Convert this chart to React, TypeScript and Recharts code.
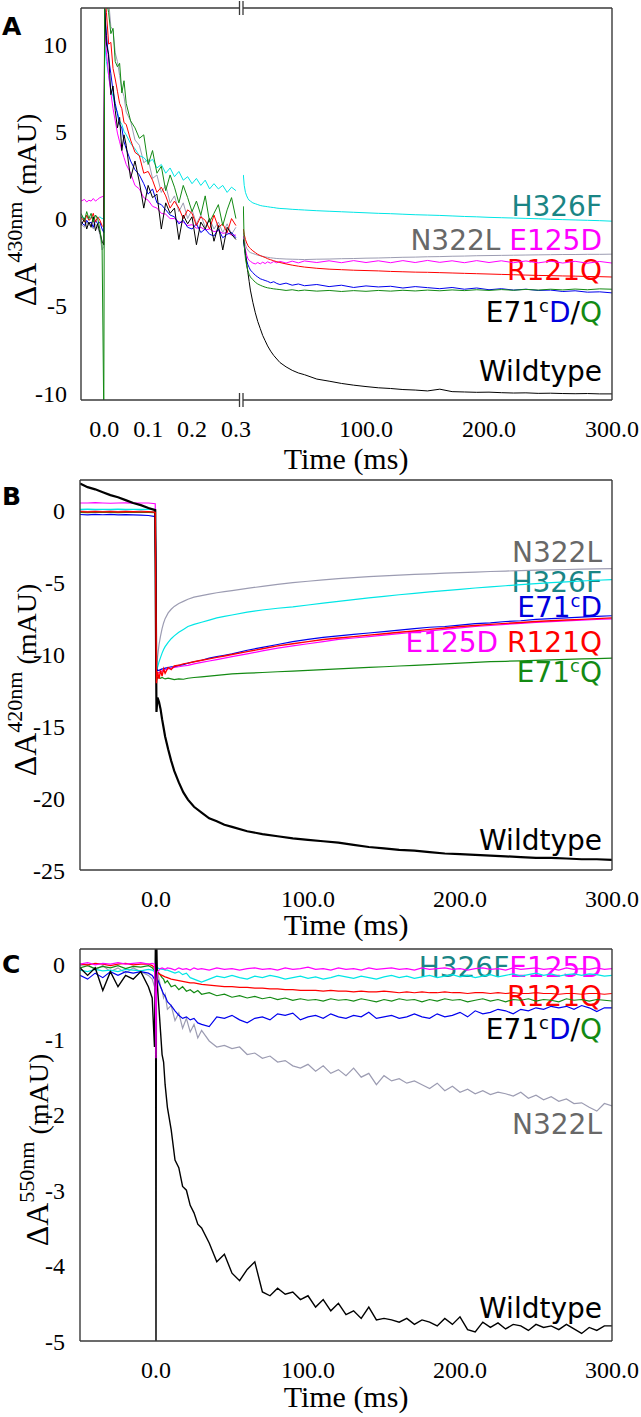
import React from 'react';
import { LineChart, Line, XAxis, YAxis } from 'recharts';

// ---------------- Panel A, left segment (0 - 0.3 ms) ----------------
const tAL = [-0.053, -0.045, -0.04, -0.035, -0.03, -0.025, -0.02, -0.015, -0.01, -0.005, -0.001, 0.001, 0.005, 0.01, 0.015, 0.02, 0.025, 0.03, 0.035, 0.04, 0.045, 0.05, 0.06, 0.07, 0.08, 0.09, 0.10, 0.11, 0.12, 0.13, 0.14, 0.15, 0.16, 0.17, 0.18, 0.19, 0.20, 0.21, 0.22, 0.23, 0.24, 0.25, 0.26, 0.27, 0.28, 0.29, 0.30];
const aL_gray = [-0.3, -0.5, -0.2, -0.4, -0.3, -0.6, -0.3, -0.5, -0.9, -1.8, -1.6, 14, 13, 12.5, 11.0, 10.8, 9.5, 9.0, 8.2, 7.4, 7.0, 6.1, 5.6, 4.5, 4.2, 3.2, 3.4, 2.3, 2.5, 1.5, 1.9, 0.9, 1.3, 0.4, 0.9, 0.0, 0.5, -0.3, 0.2, -0.5, 0.0, -0.6, -0.2, -0.8, -0.3, -0.9, -0.5];
const aL_cyan = [0.1, 0.0, 0.2, -0.1, 0.1, 0.0, 0.2, 0.0, 0.1, 0.0, 0.0, 10, 9.0, 8.2, 7.4, 7.0, 6.4, 6.1, 5.6, 5.4, 5.0, 4.8, 4.3, 4.0, 3.6, 3.5, 3.2, 3.4, 2.9, 3.1, 2.6, 2.9, 2.4, 2.7, 2.2, 2.4, 2.0, 2.3, 1.9, 2.2, 1.7, 2.0, 1.7, 1.9, 1.5, 1.8, 1.6];
const aL_mag = [1.0, 1.1, 0.95, 1.05, 1.0, 1.15, 1.0, 1.1, 1.2, 1.25, 1.3, 11, 9.5, 8.2, 7.2, 6.3, 5.6, 4.9, 4.4, 3.9, 3.5, 3.1, 2.6, 1.9, 1.7, 1.2, 1.05, 0.7, 0.6, 0.3, 0.25, 0.0, 0.0, -0.2, -0.2, -0.4, -0.35, -0.55, -0.5, -0.65, -0.6, -0.75, -0.7, -0.85, -0.8, -0.95, -0.95];
const aL_blue = [-0.2, -0.4, -0.1, -0.3, -0.2, -0.5, -0.1, -0.3, -0.2, -0.6, -0.8, 12, 10.5, 9.2, 8.3, 7.3, 6.6, 6.0, 5.4, 5.2, 4.4, 4.0, 3.3, 2.8, 2.5, 2.0, 1.4, 1.7, 0.9, 0.8, 0.5, 0.2, 0.1, -0.3, -0.1, -0.5, -0.6, -0.3, -0.8, -0.6, -0.9, -1.0, -0.6, -1.1, -0.9, -0.8, -1.1];
const aL_red = [0.1, -0.2, 0.2, -0.1, 0.0, 0.3, -0.2, 0.1, -0.1, -0.4, -0.5, 13, 11.8, 10.0, 10.1, 8.6, 8.0, 7.3, 6.6, 6.3, 5.5, 5.4, 4.5, 3.8, 3.6, 2.6, 2.7, 2.2, 1.5, 1.8, 1.3, 0.6, 1.0, 0.6, 0.0, 0.5, 0.3, -0.4, 0.1, -0.1, -0.6, 0.2, -0.5, -0.3, -0.8, 0.0, -0.4];
const aL_black = [-0.4, 0.0, -0.6, -0.2, -0.5, 0.1, -0.7, -0.3, -0.8, -1.3, -1.5, 12, 10.0, 9.4, 7.1, 7.6, 6.2, 5.2, 5.8, 3.9, 4.8, 4.2, 2.3, 3.3, 2.1, 0.6, 1.9, 1.2, 1.4, -0.6, 0.9, 0.3, 0.6, -1.2, 0.2, -0.3, 0.1, -1.5, -0.2, -0.6, 0.0, -1.3, -0.4, -1.8, -0.5, -0.9, -1.2];
const aL_green = [0.3, -0.1, 0.4, 0.0, 0.3, -0.2, 0.2, 0.0, -0.6, -1.5, -11.5, 13.5, 12.5, 11.8, 10.6, 10.9, 9.0, 8.7, 8.9, 7.2, 7.9, 6.6, 5.6, 5.2, 4.6, 4.8, 3.1, 3.9, 2.6, 3.0, 1.6, 2.5, 1.8, 0.9, 1.9, 1.2, 0.4, 1.0, 0.2, 1.3, -0.2, 0.3, 0.8, -0.4, 0.5, 1.2, 0.0];

// ---------------- Panel A, right segment (0.3 - 300 ms) ----------------
const tAR = [0.3, 1, 2, 3, 4, 5, 6, 8, 10, 12, 14, 16, 18, 20, 22.5, 25, 27.5, 30, 35, 40, 45, 50, 60, 70, 80, 90, 100, 110, 120, 130, 140, 150, 160, 170, 180, 190, 200, 210, 220, 230, 240, 250, 260, 270, 280, 290, 300];
const aR_gray = [-0.8, -1.2, -1.5, -1.7, -1.8, -1.9, -1.95, -2.0, -2.05, -2.1, -2.13, -2.16, -2.2, -2.22, -2.25, -2.27, -2.29, -2.3, -2.32, -2.33, -2.34, -2.35, -2.33, -2.32, -2.3, -2.29, -2.27, -2.26, -2.24, -2.22, -2.21, -2.19, -2.18, -2.16, -2.15, -2.13, -2.12, -2.11, -2.1, -2.09, -2.08, -2.07, -2.06, -2.06, -2.05, -2.05, -2.04];
const aR_cyan = [2.5, 1.9, 1.5, 1.3, 1.15, 1.05, 1.0, 0.9, 0.85, 0.8, 0.75, 0.72, 0.7, 0.68, 0.65, 0.63, 0.6, 0.58, 0.56, 0.53, 0.51, 0.49, 0.45, 0.42, 0.39, 0.36, 0.33, 0.3, 0.28, 0.25, 0.22, 0.2, 0.18, 0.15, 0.12, 0.1, 0.07, 0.05, 0.03, 0.01, -0.01, -0.04, -0.06, -0.08, -0.1, -0.12, -0.15];
const aR_mag = [-1.0, -1.4, -1.8, -2.1, -2.3, -2.4, -2.45, -2.55, -2.6, -2.52, -2.6, -2.5, -2.58, -2.48, -2.56, -2.46, -2.54, -2.45, -2.55, -2.44, -2.54, -2.43, -2.52, -2.42, -2.53, -2.41, -2.52, -2.42, -2.53, -2.41, -2.52, -2.4, -2.51, -2.42, -2.53, -2.41, -2.52, -2.42, -2.53, -2.43, -2.54, -2.44, -2.55, -2.45, -2.56, -2.46, -2.55];
const aR_blue = [-1.2, -1.6, -2.1, -2.4, -2.65, -2.8, -2.95, -3.1, -3.25, -3.35, -3.45, -3.5, -3.55, -3.6, -3.68, -3.62, -3.72, -3.78, -3.7, -3.82, -3.75, -3.85, -3.78, -3.9, -3.82, -3.95, -3.86, -3.92, -3.88, -3.98, -3.9, -3.96, -4.02, -3.95, -4.05, -3.98, -4.08, -4.02, -4.1, -4.05, -4.12, -4.1, -4.18, -4.14, -4.22, -4.2, -4.26];
const aR_red = [-0.6, -0.9, -1.2, -1.4, -1.55, -1.65, -1.72, -1.85, -1.95, -2.05, -2.12, -2.18, -2.23, -2.3, -2.36, -2.42, -2.47, -2.52, -2.6, -2.67, -2.73, -2.78, -2.85, -2.9, -2.93, -2.96, -2.98, -3.0, -3.03, -3.05, -3.07, -3.08, -3.1, -3.12, -3.14, -3.16, -3.18, -3.2, -3.22, -3.24, -3.26, -3.27, -3.29, -3.3, -3.32, -3.33, -3.35];
const aR_black = [-1.2, -1.5, -2.0, -2.6, -3.1, -3.6, -4.1, -4.8, -5.4, -5.9, -6.3, -6.7, -7.0, -7.3, -7.6, -7.85, -8.05, -8.25, -8.5, -8.7, -8.85, -8.95, -9.2, -9.32, -9.45, -9.55, -9.63, -9.7, -9.74, -9.8, -9.83, -9.88, -9.78, -9.92, -9.94, -9.96, -9.95, -9.98, -10.0, -9.99, -10.02, -10.01, -10.03, -10.04, -10.03, -10.05, -10.05];
const aR_green = [0.7, -1.5, -2.3, -2.7, -3.0, -3.2, -3.35, -3.5, -3.65, -3.75, -3.82, -3.88, -3.93, -3.97, -4.0, -4.03, -4.05, -4.07, -4.12, -4.08, -4.14, -4.1, -4.16, -4.12, -4.18, -4.13, -4.17, -4.12, -4.16, -4.11, -4.15, -4.1, -4.14, -4.09, -4.13, -4.08, -4.12, -4.07, -4.11, -4.06, -4.1, -4.05, -4.09, -4.04, -4.08, -4.03, -4.05];

// ---------------- Panel B (420 nm) ----------------
const tB = [-50, -45, -40, -35, -30, -25, -20, -15, -10, -5, -0.5, 0.3, 1, 2, 3, 4, 5, 6, 8, 10, 12, 15, 18, 21, 25, 30, 35, 40, 45, 50, 60, 70, 80, 90, 100, 110, 120, 130, 140, 150, 160, 170, 180, 190, 200, 210, 220, 230, 240, 250, 260, 270, 280, 290, 300];
const b_gray = [0.0, -0.05, 0.0, -0.05, 0.0, -0.05, 0.0, -0.05, 0.0, -0.05, -0.05, -11.3, -10.2, -9.3, -8.7, -8.2, -7.8, -7.5, -7.1, -6.85, -6.65, -6.45, -6.3, -6.15, -6.0, -5.9, -5.8, -5.7, -5.62, -5.55, -5.4, -5.25, -5.12, -5.0, -4.9, -4.8, -4.72, -4.65, -4.58, -4.52, -4.47, -4.42, -4.38, -4.33, -4.3, -4.26, -4.22, -4.19, -4.16, -4.13, -4.1, -4.08, -4.06, -4.04, -4.02];
const b_cyan = [0.1, 0.12, 0.1, 0.11, 0.1, 0.12, 0.1, 0.11, 0.1, 0.1, 0.1, -11.2, -10.9, -10.5, -10.2, -9.9, -9.65, -9.45, -9.15, -8.9, -8.7, -8.45, -8.25, -8.05, -7.9, -7.75, -7.6, -7.45, -7.35, -7.25, -7.05, -6.9, -6.78, -6.68, -6.55, -6.42, -6.3, -6.18, -6.06, -5.95, -5.84, -5.74, -5.64, -5.55, -5.46, -5.37, -5.29, -5.21, -5.14, -5.07, -5.0, -4.94, -4.88, -4.83, -4.78];
const b_mag = [0.55, 0.55, 0.57, 0.55, 0.53, 0.55, 0.56, 0.54, 0.55, 0.55, 0.5, -11.3, -11.3, -11.25, -11.2, -11.15, -11.1, -11.05, -11.0, -10.95, -10.9, -10.85, -10.8, -10.75, -10.65, -10.55, -10.45, -10.35, -10.25, -10.15, -9.95, -9.75, -9.55, -9.4, -9.25, -9.1, -8.95, -8.85, -8.75, -8.65, -8.55, -8.45, -8.35, -8.25, -8.15, -8.05, -7.98, -7.9, -7.83, -7.77, -7.71, -7.66, -7.61, -7.56, -7.52];
const b_blue = [-0.25, -0.28, -0.25, -0.27, -0.25, -0.28, -0.26, -0.28, -0.3, -0.32, -0.4, -11.0, -11.1, -11.1, -11.05, -11.0, -11.0, -10.95, -10.9, -10.85, -10.85, -10.75, -10.7, -10.6, -10.5, -10.4, -10.25, -10.15, -10.05, -9.95, -9.7, -9.5, -9.3, -9.1, -8.95, -8.8, -8.7, -8.6, -8.5, -8.4, -8.3, -8.2, -8.1, -8.05, -7.95, -7.85, -7.8, -7.7, -7.65, -7.55, -7.5, -7.45, -7.4, -7.35, -7.3];
const b_green = [-0.1, -0.12, -0.1, -0.11, -0.1, -0.12, -0.1, -0.11, -0.1, -0.1, -0.12, -11.8, -11.6, -11.6, -11.65, -11.6, -11.65, -11.7, -11.65, -11.7, -11.75, -11.7, -11.72, -11.65, -11.6, -11.55, -11.5, -11.45, -11.4, -11.35, -11.3, -11.25, -11.2, -11.15, -11.1, -11.05, -11.0, -10.95, -10.9, -10.85, -10.8, -10.75, -10.7, -10.65, -10.6, -10.55, -10.5, -10.47, -10.44, -10.4, -10.37, -10.34, -10.3, -10.28, -10.25];
const b_black = [1.9, 1.65, 1.5, 1.3, 1.1, 0.95, 0.75, 0.55, 0.4, 0.2, 0.05, -14.0, -13.0, -13.3, -13.8, -14.5, -15.1, -15.7, -16.6, -17.4, -18.1, -18.9, -19.6, -20.1, -20.6, -21.0, -21.4, -21.6, -21.85, -22.0, -22.3, -22.5, -22.65, -22.8, -22.9, -23.0, -23.1, -23.25, -23.4, -23.5, -23.6, -23.65, -23.75, -23.85, -23.9, -23.95, -24.0, -24.05, -24.1, -24.15, -24.15, -24.2, -24.25, -24.25, -24.3];
const b_red = [-0.05, -0.08, -0.05, -0.07, -0.05, -0.08, -0.06, -0.05, -0.07, -0.05, -0.1, -12.0, -11.2, -11.7, -11.1, -11.5, -11.0, -11.3, -10.9, -11.05, -10.8, -10.75, -10.65, -10.6, -10.5, -10.4, -10.3, -10.2, -10.1, -10.0, -9.8, -9.6, -9.4, -9.25, -9.1, -8.95, -8.85, -8.75, -8.65, -8.55, -8.45, -8.35, -8.25, -8.15, -8.05, -7.98, -7.9, -7.83, -7.77, -7.7, -7.65, -7.6, -7.55, -7.5, -7.45];

// ---------------- Panel C (550 nm) ----------------
const tC = [-50, -45, -40, -35, -30, -25, -20, -15, -10, -5, -2.5, -1, -0.3, 0, 0.3, 1, 2, 3, 4, 5, 6, 7.5, 10, 12.5, 15, 17.5, 20, 22.5, 25, 27.5, 30, 35, 40, 45, 50, 55, 60, 65, 70, 75, 80, 85, 90, 95, 100, 105, 110, 115, 120, 125, 130, 135, 140, 145, 150, 155, 160, 165, 170, 175, 180, 185, 190, 195, 200, 205, 210, 215, 220, 225, 230, 235, 240, 245, 250, 255, 260, 265, 270, 275, 280, 285, 290, 295, 300];
const c_gray = [-0.02, 0.0, -0.08, -0.02, -0.1, -0.05, -0.12, -0.05, -0.1, -0.15, -0.2, -0.3, -0.2, -0.1, 0.0, -0.1, -0.2, -0.3, -0.35, -0.45, -0.4, -0.6, -0.55, -0.75, -0.65, -0.85, -0.72, -0.9, -0.8, -0.98, -0.88, -1.02, -1.1, -1.08, -1.12, -1.1, -1.2, -1.18, -1.25, -1.22, -1.3, -1.28, -1.35, -1.38, -1.33, -1.42, -1.35, -1.45, -1.4, -1.48, -1.38, -1.5, -1.45, -1.6, -1.48, -1.55, -1.52, -1.58, -1.55, -1.6, -1.65, -1.58, -1.68, -1.62, -1.7, -1.66, -1.72, -1.68, -1.73, -1.7, -1.72, -1.75, -1.7, -1.78, -1.74, -1.8, -1.76, -1.82, -1.79, -1.85, -1.84, -1.9, -1.95, -1.85, -1.88];
const c_cyan = [-0.08, -0.1, -0.07, -0.09, -0.08, -0.1, -0.07, -0.08, -0.09, -0.07, -0.08, -0.1, -0.08, -0.05, -0.05, -0.05, -0.06, -0.06, -0.07, -0.07, -0.08, -0.08, -0.1, -0.12, -0.1, -0.14, -0.12, -0.18, -0.2, -0.22, -0.24, -0.2, -0.16, -0.18, -0.15, -0.18, -0.2, -0.16, -0.18, -0.15, -0.17, -0.2, -0.18, -0.16, -0.19, -0.17, -0.2, -0.18, -0.15, -0.17, -0.19, -0.16, -0.18, -0.2, -0.17, -0.15, -0.18, -0.16, -0.19, -0.17, -0.15, -0.18, -0.16, -0.14, -0.17, -0.15, -0.18, -0.16, -0.14, -0.17, -0.15, -0.13, -0.16, -0.14, -0.12, -0.15, -0.13, -0.16, -0.14, -0.13, -0.15, -0.13, -0.14, -0.16, -0.15];
const c_blue = [-0.15, -0.2, -0.12, -0.18, -0.1, -0.15, -0.1, -0.12, -0.1, -0.12, -0.15, -0.2, -0.15, -0.1, -0.15, -0.2, -0.25, -0.3, -0.35, -0.4, -0.42, -0.5, -0.55, -0.62, -0.68, -0.72, -0.7, -0.74, -0.72, -0.78, -0.8, -0.83, -0.7, -0.72, -0.68, -0.74, -0.78, -0.72, -0.7, -0.74, -0.66, -0.68, -0.65, -0.74, -0.7, -0.68, -0.72, -0.66, -0.7, -0.72, -0.68, -0.7, -0.64, -0.72, -0.7, -0.68, -0.72, -0.7, -0.66, -0.7, -0.72, -0.66, -0.7, -0.68, -0.64, -0.7, -0.62, -0.66, -0.64, -0.6, -0.62, -0.66, -0.6, -0.62, -0.58, -0.6, -0.56, -0.58, -0.56, -0.6, -0.55, -0.58, -0.63, -0.58, -0.58];
const c_green = [-0.05, -0.02, -0.06, -0.03, -0.05, -0.02, -0.06, -0.03, -0.04, -0.02, -0.05, -0.08, -0.05, -0.05, -0.08, -0.1, -0.12, -0.15, -0.18, -0.2, -0.25, -0.22, -0.3, -0.28, -0.34, -0.3, -0.36, -0.34, -0.38, -0.35, -0.4, -0.38, -0.42, -0.4, -0.44, -0.42, -0.45, -0.43, -0.46, -0.44, -0.47, -0.45, -0.48, -0.46, -0.48, -0.47, -0.49, -0.46, -0.48, -0.47, -0.49, -0.46, -0.48, -0.5, -0.47, -0.49, -0.46, -0.48, -0.47, -0.5, -0.47, -0.49, -0.46, -0.48, -0.47, -0.5, -0.48, -0.46, -0.49, -0.47, -0.5, -0.47, -0.48, -0.46, -0.49, -0.47, -0.48, -0.5, -0.46, -0.48, -0.47, -0.49, -0.47, -0.48, -0.49];
const c_red = [0.0, -0.01, 0.01, 0.0, -0.02, 0.0, 0.01, -0.01, 0.0, 0.0, -0.02, -0.05, -0.08, -0.1, -0.1, -0.12, -0.13, -0.14, -0.15, -0.16, -0.17, -0.18, -0.2, -0.21, -0.22, -0.23, -0.24, -0.25, -0.25, -0.26, -0.27, -0.28, -0.29, -0.3, -0.3, -0.31, -0.31, -0.32, -0.32, -0.33, -0.33, -0.34, -0.34, -0.35, -0.35, -0.35, -0.36, -0.35, -0.36, -0.36, -0.37, -0.36, -0.37, -0.37, -0.36, -0.37, -0.38, -0.37, -0.38, -0.37, -0.38, -0.38, -0.37, -0.38, -0.38, -0.39, -0.38, -0.38, -0.39, -0.38, -0.39, -0.38, -0.39, -0.39, -0.38, -0.39, -0.39, -0.4, -0.39, -0.39, -0.4, -0.39, -0.39, -0.4, -0.39];
const c_black = [-0.05, -0.15, -0.05, -0.35, -0.1, -0.3, -0.15, -0.2, -0.1, -0.3, -0.45, -1.1, 0.5, -5.3, 0.5, -0.3, -0.6, -0.9, -1.2, -1.3, -1.6, -1.9, -2.2, -2.6, -2.7, -2.95, -3.0, -3.2, -3.3, -3.45, -3.5, -3.7, -3.95, -3.85, -4.1, -4.2, -4.05, -3.95, -4.35, -4.4, -4.3, -4.38, -4.35, -4.45, -4.4, -4.55, -4.45, -4.6, -4.5, -4.65, -4.6, -4.7, -4.55, -4.72, -4.7, -4.72, -4.75, -4.7, -4.78, -4.72, -4.75, -4.8, -4.7, -4.78, -4.68, -4.85, -4.88, -4.75, -4.82, -4.76, -4.84, -4.78, -4.8, -4.86, -4.78, -4.82, -4.8, -4.85, -4.78, -4.84, -4.9, -4.82, -4.86, -4.8, -4.8];
const c_mag = [0.0, 0.02, -0.01, 0.01, 0.0, 0.02, 0.0, 0.01, 0.02, 0.0, 0.01, 0.0, -0.6, -1.25, -0.3, -0.1, -0.08, -0.06, -0.05, -0.06, -0.07, -0.05, -0.06, -0.08, -0.05, -0.07, -0.06, -0.08, -0.05, -0.07, -0.06, -0.08, -0.05, -0.07, -0.06, -0.08, -0.06, -0.05, -0.07, -0.06, -0.08, -0.05, -0.07, -0.06, -0.04, -0.07, -0.06, -0.08, -0.05, -0.07, -0.06, -0.08, -0.05, -0.07, -0.06, -0.05, -0.07, -0.06, -0.08, -0.05, -0.07, -0.06, -0.05, -0.07, -0.06, -0.08, -0.06, -0.05, -0.07, -0.06, -0.08, -0.05, -0.07, -0.06, -0.05, -0.07, -0.06, -0.08, -0.05, -0.07, -0.06, -0.07, -0.05, -0.07, -0.06];

// ---------------- Axis ticks ----------------
const aLxLabels = [0, 0.1, 0.2, 0.3];
const aLxMinor = [-0.025, 0, 0.025, 0.05, 0.075, 0.1, 0.125, 0.15, 0.175, 0.2, 0.225, 0.25, 0.275, 0.3];
const aRxLabels = [100, 200, 300];
const aRxMinor = [25, 50, 75, 100, 125, 150, 175, 200, 225, 250, 275];
const aYLabels = [-10, -5, 0, 5, 10];
const aYMinor = [-10, -9, -8, -7, -6, -5, -4, -3, -2, -1, 0, 1, 2, 3, 4, 5, 6, 7, 8, 9, 10, 11, 12];
const bcXLabels = [0, 100, 200, 300];
const bcXMinor = [-25, 0, 25, 50, 75, 100, 125, 150, 175, 200, 225, 250, 275];
const bYLabels = [-25, -20, -15, -10, -5, 0];
const bYMinor = [-24, -23, -22, -21, -20, -19, -18, -17, -16, -15, -14, -13, -12, -11, -10, -9, -8, -7, -6, -5, -4, -3, -2, -1, 0, 1, 2];
const cYLabels = [-5, -4, -3, -2, -1, 0];
const cYMinor = [-4.8, -4.6, -4.4, -4.2, -4, -3.8, -3.6, -3.4, -3.2, -3, -2.8, -2.6, -2.4, -2.2, -2, -1.8, -1.6, -1.4, -1.2, -1, -0.8, -0.6, -0.4, -0.2, 0];

// ---------------- Styles ----------------
const SERIF = '"Liberation Serif", "Times New Roman", serif';
const SANS = '"DejaVu Sans", Verdana, sans-serif';
const FRAME = '#3a3a3a';
const COL = {
  gray: '#9c9cb2',
  cyan: '#00e6e6',
  mag: '#ff00ff',
  blue: '#0000ee',
  red: '#ff0000',
  black: '#000000',
  green: '#138a13',
};
const LAB = {
  teal: '#1a8585',
  gray: '#686868',
  mag: '#ff00ff',
  red: '#ff0000',
  blue: '#0000dd',
  green: '#138a13',
  black: '#000000',
};

type Row = { [k: string]: number };
function buildRows(t: number[], series: { [k: string]: number[] }): Row[] {
  return t.map((tv, i) => {
    const r: Row = { t: tv };
    Object.keys(series).forEach((k) => {
      r[k] = series[k][i];
    });
    return r;
  });
}

const dataAL = buildRows(tAL, { gray: aL_gray, cyan: aL_cyan, mag: aL_mag, blue: aL_blue, red: aL_red, black: aL_black, green: aL_green });
const dataAR = buildRows(tAR, { gray: aR_gray, cyan: aR_cyan, mag: aR_mag, blue: aR_blue, red: aR_red, black: aR_black, green: aR_green });
const dataB = buildRows(tB, { gray: b_gray, cyan: b_cyan, mag: b_mag, blue: b_blue, green: b_green, black: b_black, red: b_red });
const dataC = buildRows(tC, { gray: c_gray, cyan: c_cyan, blue: c_blue, green: c_green, red: c_red, black: c_black, mag: c_mag });

const fmt1 = (v: number) => v.toFixed(1);
const fmtInt = (v: number) => String(v);

type PanelProps = {
  top: number;
  height: number;
  margin: { top: number; right: number; bottom: number; left: number };
  data: Row[];
  order: string[];
  widths: { [k: string]: number };
  xDomain: [number, number];
  xLabels: number[];
  xMinor: number[];
  yDomain: [number, number];
  yLabels: number[];
  yMinor: number[];
  showLeft: boolean;
  showRight: boolean;
  yTickMargin: number;
};

function Panel(p: PanelProps) {
  const tickStyle = { fontFamily: SERIF, fontSize: 24, fill: '#000' };
  return (
    <div style={{ position: 'absolute', left: 0, top: p.top, width: 641, height: p.height }}>
      <LineChart width={641} height={p.height} data={p.data} margin={p.margin}>
        <XAxis xAxisId="x" dataKey="t" type="number" domain={p.xDomain} allowDataOverflow ticks={p.xLabels} interval={0}
          tickFormatter={fmt1} tickLine={false} tickSize={0} tickMargin={20} height={1}
          axisLine={{ stroke: FRAME, strokeWidth: 1.4 }} tick={tickStyle} />
        <XAxis xAxisId="xm" dataKey="t" type="number" domain={p.xDomain} allowDataOverflow ticks={p.xMinor} interval={0}
          mirror tick={false} tickSize={5} height={1} axisLine={false} tickLine={{ stroke: FRAME, strokeWidth: 1.2 }} />
        <XAxis xAxisId="xt" orientation="top" dataKey="t" type="number" domain={p.xDomain} allowDataOverflow ticks={p.xMinor} interval={0}
          mirror tick={false} tickSize={5} height={1} axisLine={{ stroke: FRAME, strokeWidth: 1.4 }} tickLine={{ stroke: FRAME, strokeWidth: 1.2 }} />
        <YAxis yAxisId="y" type="number" domain={p.yDomain} allowDataOverflow ticks={p.yLabels} interval={0}
          hide={!p.showLeft} tickFormatter={fmtInt} tickLine={false} tickSize={0} tickMargin={p.yTickMargin} width={1}
          axisLine={{ stroke: FRAME, strokeWidth: 1.4 }} tick={tickStyle} />
        {p.showLeft && (
          <YAxis yAxisId="ym" type="number" domain={p.yDomain} allowDataOverflow ticks={p.yMinor} interval={0}
            mirror tick={false} tickSize={5} width={1} axisLine={false} tickLine={{ stroke: FRAME, strokeWidth: 1.2 }} />
        )}
        {p.showRight && (
          <YAxis yAxisId="yr" orientation="right" type="number" domain={p.yDomain} allowDataOverflow ticks={p.yMinor} interval={0}
            mirror tick={false} tickSize={5} width={1} axisLine={{ stroke: FRAME, strokeWidth: 1.4 }} tickLine={{ stroke: FRAME, strokeWidth: 1.2 }} />
        )}
        {p.order.map((k) => (
          <Line key={k} xAxisId="x" yAxisId="y" type="linear" dataKey={k} stroke={(COL as any)[k]}
            strokeWidth={p.widths[k] ?? 1} dot={false} activeDot={false} isAnimationActive={false} connectNulls />
        ))}
      </LineChart>
    </div>
  );
}

function YTitle({ x, y, sup }: { x: number; y: number; sup: string }) {
  return (
    <text transform={`translate(${x},${y}) rotate(-90)`} textAnchor="middle" fontFamily={SERIF} fill="#000">
      <tspan fontSize={32}>ΔA</tspan>
      <tspan fontSize={22} dy={-14}>{sup}</tspan>
      <tspan fontSize={28} dy={14}> (mAU)</tspan>
    </text>
  );
}

function Ann({ y, children }: { y: number; children: React.ReactNode }) {
  return (
    <text x={602} y={y} textAnchor="end" fontFamily={SANS} fontSize={28}>
      {children}
    </text>
  );
}

function Overlay() {
  return (
    <svg width={641} height={1417} style={{ position: 'absolute', left: 0, top: 0 }}>
      {/* panel letters */}
      <text x={2} y={35} fontFamily={SANS} fontWeight="bold" fontSize={25} fill="#000">A</text>
      <text x={2} y={505} fontFamily={SANS} fontWeight="bold" fontSize={25} fill="#000">B</text>
      <text x={2} y={973} fontFamily={SANS} fontWeight="bold" fontSize={25} fill="#000">C</text>

      {/* axis titles */}
      <YTitle x={36} y={210} sup="430nm" />
      <YTitle x={36} y={680} sup="420nm" />
      <YTitle x={48} y={1150} sup="550nm" />
      <text x={346} y={469} textAnchor="middle" fontFamily={SERIF} fontSize={30} fill="#000">Time (ms)</text>
      <text x={346} y={935} textAnchor="middle" fontFamily={SERIF} fontSize={30} fill="#000">Time (ms)</text>
      <text x={346} y={1407} textAnchor="middle" fontFamily={SERIF} fontSize={30} fill="#000">Time (ms)</text>

      {/* axis break marks */}
      <line x1={239.5} y1={1} x2={239.5} y2={15} stroke={FRAME} strokeWidth={1.3} />
      <line x1={243} y1={1} x2={243} y2={15} stroke={FRAME} strokeWidth={1.3} />
      <line x1={239.5} y1={393} x2={239.5} y2={407} stroke={FRAME} strokeWidth={1.3} />
      <line x1={243} y1={393} x2={243} y2={407} stroke={FRAME} strokeWidth={1.3} />

      {/* panel A annotations */}
      <Ann y={216}><tspan fill={LAB.teal}>H326F</tspan></Ann>
      <Ann y={250}><tspan fill={LAB.gray}>N322L</tspan><tspan fill={LAB.mag}> E125D</tspan></Ann>
      <Ann y={280}><tspan fill={LAB.red}>R121Q</tspan></Ann>
      <Ann y={322}>
        <tspan fill={LAB.black}>E71</tspan>
        <tspan fill={LAB.black} fontSize={18} dy={-10}>c</tspan>
        <tspan fill={LAB.blue} dy={10}>D</tspan>
        <tspan fill={LAB.black}>/</tspan>
        <tspan fill={LAB.green}>Q</tspan>
      </Ann>
      <Ann y={381}><tspan fill={LAB.black}>Wildtype</tspan></Ann>

      {/* panel B annotations */}
      <Ann y={562}><tspan fill={LAB.gray}>N322L</tspan></Ann>
      <Ann y={592}><tspan fill={LAB.teal}>H326F</tspan></Ann>
      <Ann y={617}>
        <tspan fill={LAB.blue}>E71</tspan>
        <tspan fill={LAB.blue} fontSize={18} dy={-10}>c</tspan>
        <tspan fill={LAB.blue} dy={10}>D</tspan>
      </Ann>
      <Ann y={652}><tspan fill={LAB.mag}>E125D</tspan><tspan fill={LAB.red}> R121Q</tspan></Ann>
      <Ann y={682}>
        <tspan fill={LAB.green}>E71</tspan>
        <tspan fill={LAB.green} fontSize={18} dy={-10}>c</tspan>
        <tspan fill={LAB.green} dy={10}>Q</tspan>
      </Ann>
      <Ann y={850}><tspan fill={LAB.black}>Wildtype</tspan></Ann>

      {/* panel C annotations */}
      <Ann y={977}><tspan fill={LAB.teal}>H326F</tspan><tspan fill={LAB.mag}>E125D</tspan></Ann>
      <Ann y={1006}><tspan fill={LAB.red}>R121Q</tspan></Ann>
      <Ann y={1039}>
        <tspan fill={LAB.black}>E71</tspan>
        <tspan fill={LAB.black} fontSize={18} dy={-10}>c</tspan>
        <tspan fill={LAB.blue} dy={10}>D</tspan>
        <tspan fill={LAB.black}>/</tspan>
        <tspan fill={LAB.green}>Q</tspan>
      </Ann>
      <Ann y={1134}><tspan fill={LAB.gray}>N322L</tspan></Ann>
      <Ann y={1318}><tspan fill={LAB.black}>Wildtype</tspan></Ann>
    </svg>
  );
}

export default function App() {
  const orderA = ['gray', 'cyan', 'mag', 'blue', 'red', 'black', 'green'];
  const orderB = ['gray', 'cyan', 'mag', 'blue', 'green', 'black', 'red'];
  const orderC = ['gray', 'cyan', 'blue', 'green', 'red', 'black', 'mag'];
  const wA = { gray: 1, cyan: 1, mag: 1, blue: 1, red: 1, black: 1, green: 1 };
  const wB = { gray: 1.2, cyan: 1.2, mag: 1.2, blue: 1.2, red: 1.4, black: 2.2, green: 1.2 };
  const wC = { gray: 1.2, cyan: 1.2, mag: 1.2, blue: 1.2, red: 1.2, black: 1.4, green: 1.2 };
  return (
    <div style={{ position: 'absolute', left: 0, top: 0, width: 641, height: 1417, background: '#fff' }}>
      <Overlay />
      <Panel top={0} height={470} margin={{ top: 8, right: 402, bottom: 69, left: 80 }} data={dataAL} order={orderA} widths={wA}
        xDomain={[-0.053, 0.307]} xLabels={aLxLabels} xMinor={aLxMinor} yDomain={[-10.4, 12.07]} yLabels={aYLabels} yMinor={aYMinor}
        showLeft showRight={false} yTickMargin={14} />
      <Panel top={0} height={470} margin={{ top: 8, right: 29, bottom: 69, left: 243 }} data={dataAR} order={orderA} widths={wA}
        xDomain={[0, 300]} xLabels={aRxLabels} xMinor={aRxMinor} yDomain={[-10.4, 12.07]} yLabels={aYLabels} yMinor={aYMinor}
        showLeft={false} showRight yTickMargin={14} />
      <Panel top={470} height={465} margin={{ top: 10, right: 29, bottom: 64, left: 79 }} data={dataB} order={orderB} widths={wB}
        xDomain={[-50, 300]} xLabels={bcXLabels} xMinor={bcXMinor} yDomain={[-25, 2.15]} yLabels={bYLabels} yMinor={bYMinor}
        showLeft showRight yTickMargin={15} />
      <Panel top={940} height={477} margin={{ top: 9, right: 29, bottom: 75, left: 79 }} data={dataC} order={orderC} widths={wC}
        xDomain={[-50, 300]} xLabels={bcXLabels} xMinor={bcXMinor} yDomain={[-5, 0.2]} yLabels={cYLabels} yMinor={cYMinor}
        showLeft showRight yTickMargin={15} />
    </div>
  );
}
